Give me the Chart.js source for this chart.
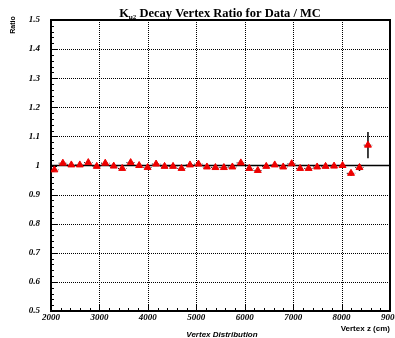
<!DOCTYPE html>
<html>
<head>
<meta charset="utf-8">
<script src="https://cdn.jsdelivr.net/npm/chart.js@4"></script>
<style>
  html, body { margin: 0; padding: 0; background: #fff; }
  #wrap { width: 395px; height: 338px; position: relative; }
</style>
</head>
<body>
<div id="wrap"><canvas id="ratioChart"></canvas></div>
<script>
// vertex z bin centres (cm)
const vertexZ = [2070, 2245, 2420, 2595, 2770, 2945, 3120, 3295, 3470, 3645,
  3820, 3995, 4170, 4345, 4520, 4695, 4870, 5045, 5220, 5395,
  5570, 5745, 5920, 6095, 6270, 6445, 6620, 6795, 6970, 7145,
  7320, 7495, 7670, 7845, 8020, 8195, 8370, 8545];
// Data / MC ratio
const ratio = [0.985, 1.008, 1.002, 1.002, 1.010, 0.997, 1.008, 0.998, 0.990, 1.010,
  1.000, 0.993, 1.005, 0.997, 0.997, 0.990, 1.002, 1.005, 0.995, 0.993,
  0.993, 0.995, 1.009, 0.990, 0.983, 0.997, 1.002, 0.995, 1.006, 0.990,
  0.990, 0.995, 0.997, 0.998, 1.000, 0.973, 0.993, 1.070];
const ratioErr = [0.005, 0.005, 0.005, 0.005, 0.005, 0.005, 0.005, 0.005, 0.005, 0.005,
  0.005, 0.005, 0.005, 0.005, 0.005, 0.005, 0.005, 0.005, 0.005, 0.005,
  0.005, 0.005, 0.005, 0.005, 0.005, 0.005, 0.005, 0.005, 0.005, 0.005,
  0.005, 0.005, 0.005, 0.005, 0.006, 0.008, 0.012, 0.045];
const halfBin = 87;
const xTicks = [2000, 3000, 4000, 5000, 6000, 7000, 8000, 9000];
const yTicks = [0.5, 0.6, 0.7, 0.8, 0.9, 1.0, 1.1, 1.2, 1.3, 1.4, 1.5];

const points = vertexZ.map((z, i) => ({ x: z, y: ratio[i] }));

// frame, dotted grid, minor ticks, line at 1, error bars, titles
const framePlugin = {
  id: 'frame',
  beforeDatasetsDraw(chart) {
    const { ctx, chartArea: a, scales: { x, y } } = chart;
    ctx.save();
    ctx.strokeStyle = '#000';
    // dotted grid
    ctx.lineWidth = 1;
    ctx.setLineDash([1, 1]);
    xTicks.slice(1, -1).forEach(v => {
      const px = Math.round(x.getPixelForValue(v)) + 0.5;
      ctx.beginPath(); ctx.moveTo(px, a.top); ctx.lineTo(px, a.bottom); ctx.stroke();
    });
    yTicks.slice(1, -1).forEach(v => {
      if (v === 1.0) return;
      const py = Math.round(y.getPixelForValue(v)) + 0.5;
      ctx.beginPath(); ctx.moveTo(a.left, py); ctx.lineTo(a.right, py); ctx.stroke();
    });
    ctx.setLineDash([]);
    // minor ticks
    for (let v = 2000; v <= 9000; v += 200) {
      const px = Math.round(x.getPixelForValue(v)) + 0.5;
      const len = v % 1000 === 0 ? 6 : 3;
      ctx.beginPath(); ctx.moveTo(px, a.bottom); ctx.lineTo(px, a.bottom - len); ctx.stroke();
    }
    for (let k = 0; k <= 50; k++) {
      const v = 0.5 + k * 0.02;
      const py = Math.round(y.getPixelForValue(v)) + 0.5;
      const len = k % 5 === 0 ? 6 : 3;
      ctx.beginPath(); ctx.moveTo(a.left, py); ctx.lineTo(a.left + len, py); ctx.stroke();
    }
    // reference line at 1
    ctx.lineWidth = 1.5;
    const p1 = y.getPixelForValue(1.0);
    ctx.beginPath(); ctx.moveTo(a.left, p1); ctx.lineTo(a.right, p1); ctx.stroke();
    // error bars
    ctx.lineWidth = 1;
    ctx.setLineDash([1, 1]);
    vertexZ.forEach((z, i) => {
      const py = y.getPixelForValue(ratio[i]);
      ctx.beginPath();
      ctx.moveTo(x.getPixelForValue(z - halfBin), py);
      ctx.lineTo(x.getPixelForValue(z + halfBin), py);
      ctx.stroke();
    });
    ctx.setLineDash([]);
    ctx.lineWidth = 1.5;
    vertexZ.forEach((z, i) => {
      const px = x.getPixelForValue(z);
      ctx.beginPath();
      ctx.moveTo(px, y.getPixelForValue(ratio[i] - ratioErr[i]));
      ctx.lineTo(px, y.getPixelForValue(ratio[i] + ratioErr[i]));
      ctx.stroke();
    });
    // frame
    ctx.lineWidth = 2;
    ctx.strokeRect(a.left, a.top, a.right - a.left, a.bottom - a.top);
    ctx.restore();
  },
  afterDraw(chart) {
    const { ctx, chartArea: a } = chart;
    ctx.save();
    ctx.fillStyle = '#000';
    ctx.textBaseline = 'alphabetic';
    // title with subscript
    const big = 'bold 12.5px "Liberation Serif", "DejaVu Serif", serif';
    const small = 'bold 7px "Liberation Serif", "DejaVu Serif", serif';
    const rest = ' Decay Vertex Ratio for Data / MC';
    ctx.font = big;
    const wK = ctx.measureText('K').width;
    const wRest = ctx.measureText(rest).width;
    ctx.font = small;
    const wSub = ctx.measureText('\u03BC2').width;
    let tx = 220 - (wK + wSub + wRest) / 2;
    const ty = 17;
    ctx.textAlign = 'left';
    ctx.font = big; ctx.fillText('K', tx, ty); tx += wK;
    ctx.font = small; ctx.fillText('\u03BC2', tx, ty + 2); tx += wSub;
    ctx.font = big; ctx.fillText(rest, tx, ty);
    // y axis label
    ctx.font = 'bold 7px "Liberation Sans", Arial, sans-serif';
    ctx.save();
    ctx.translate(15, 25);
    ctx.rotate(-Math.PI / 2);
    ctx.textAlign = 'center';
    ctx.fillText('Ratio', 0, 0);
    ctx.restore();
    // x axis labels
    ctx.font = 'bold 8px "Liberation Sans", Arial, sans-serif';
    ctx.textAlign = 'right';
    ctx.fillText('Vertex z (cm)', a.right, 331);
    ctx.font = 'italic bold 8px "Liberation Sans", Arial, sans-serif';
    ctx.textAlign = 'center';
    ctx.fillText('Vertex Distribution', 222, 337);
    ctx.restore();
  }
};

new Chart(document.getElementById('ratioChart'), {
  type: 'scatter',
  data: {
    datasets: [{
      label: 'Data / MC',
      data: points,
      pointStyle: 'triangle',
      pointRadius: 4,
      pointHoverRadius: 4,
      backgroundColor: '#ee0000',
      borderColor: '#ee0000',
      borderWidth: 1
    }]
  },
  options: {
    responsive: true,
    maintainAspectRatio: false,
    animation: false,
    events: [],
    layout: { padding: { top: 20, right: 2, left: 0, bottom: 0 } },
    plugins: { legend: { display: false }, tooltip: { enabled: false } },
    scales: {
      x: {
        type: 'linear',
        min: 2000, max: 9000,
        afterFit: s => { s.height = 27; s.paddingLeft = 0; s.paddingRight = 0; },
        afterBuildTicks: s => { s.ticks = xTicks.map(v => ({ value: v })); },
        grid: { display: false, drawTicks: false },
        border: { display: false },
        ticks: {
          padding: 1,
          maxRotation: 0,
          autoSkip: false,
          color: '#000',
          font: { family: '"Liberation Serif", "DejaVu Serif", serif', size: 9, style: 'italic', weight: 'bold' },
          callback: v => String(v)
        }
      },
      y: {
        type: 'linear',
        min: 0.5, max: 1.5,
        afterFit: s => { s.width = 51; s.paddingTop = 0; s.paddingBottom = 0; },
        afterBuildTicks: s => { s.ticks = yTicks.map(v => ({ value: v })); },
        grid: { display: false, drawTicks: false },
        border: { display: false },
        ticks: {
          padding: 11,
          autoSkip: false,
          color: '#000',
          font: { family: '"Liberation Serif", "DejaVu Serif", serif', size: 9, style: 'italic', weight: 'bold' },
          callback: v => (Math.abs(v - 1) < 1e-9 ? '1' : v.toFixed(1))
        }
      }
    }
  },
  plugins: [framePlugin]
});
</script>
</body>
</html>
